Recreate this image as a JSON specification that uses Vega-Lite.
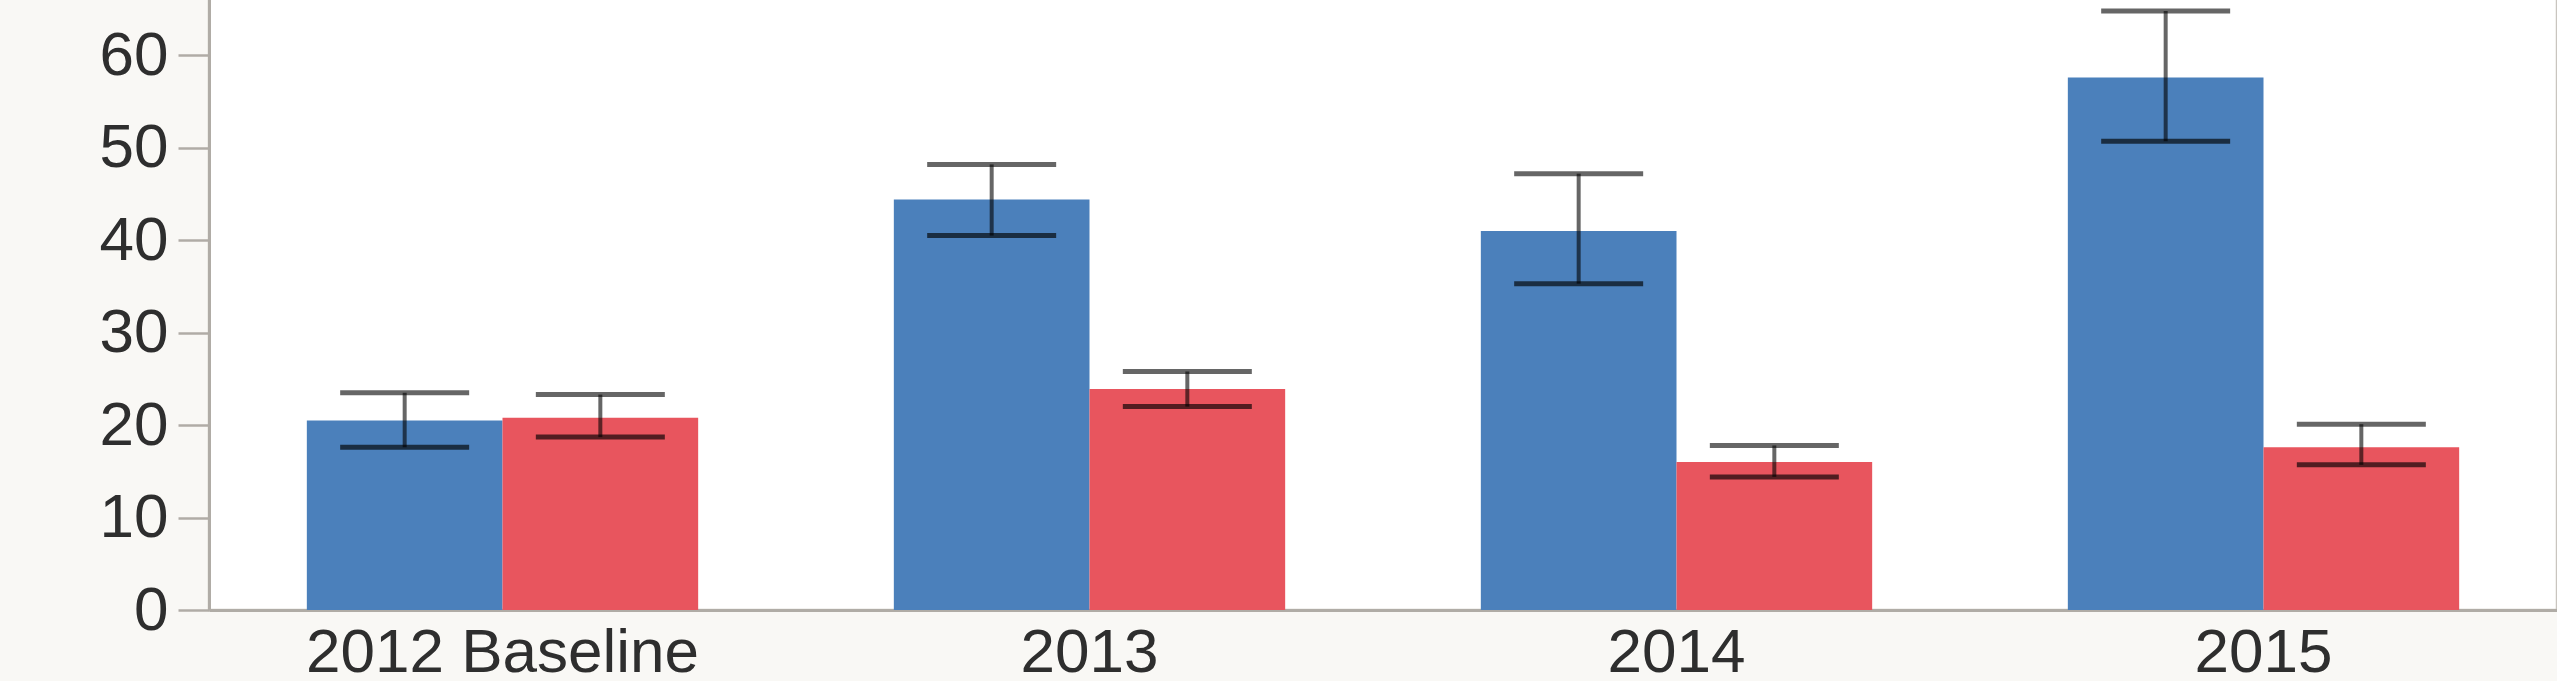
{
  "$schema": "https://vega.github.io/schema/vega-lite/v6.json",
  "width": 2348,
  "height": 612,
  "padding": {"left": 99, "top": -2, "right": 0, "bottom": 0},
  "background": "#f9f8f5",
  "config": {
    "view": {"fill": "#ffffff", "stroke": "#c9c5bf", "strokeWidth": 2.5},
    "font": "Liberation Sans"
  },
  "data": {
    "values": [
      {"year": "2012 Baseline", "group": "A", "value": 20.5, "lo": 17.6, "hi": 23.5},
      {"year": "2012 Baseline", "group": "B", "value": 20.8, "lo": 18.7, "hi": 23.3},
      {"year": "2013", "group": "A", "value": 44.4, "lo": 40.5, "hi": 48.2},
      {"year": "2013", "group": "B", "value": 23.9, "lo": 22.0, "hi": 25.8},
      {"year": "2014", "group": "A", "value": 41.0, "lo": 35.3, "hi": 47.2},
      {"year": "2014", "group": "B", "value": 16.0, "lo": 14.4, "hi": 17.8},
      {"year": "2015", "group": "A", "value": 57.6, "lo": 50.7, "hi": 64.8},
      {"year": "2015", "group": "B", "value": 17.6, "lo": 15.7, "hi": 20.1}
    ]
  },
  "encoding": {
    "x": {
      "field": "year", "type": "nominal", "sort": null,
      "scale": {"paddingInner": 0, "paddingOuter": 0},
      "axis": {
        "title": null, "labelAngle": 0, "ticks": false, "tickSize": 0,
        "labelPadding": 12, "labelFontSize": 62, "labelColor": "#2e2e2e",
        "labelLimit": 0,
        "domainColor": "#b0aca6", "domainWidth": 3, "labelFont": "Liberation Sans"
      }
    },
    "xOffset": {
      "field": "group", "type": "nominal",
      "scale": {"paddingInner": 0, "paddingOuter": 0.5}
    }
  },
  "layer": [
    {
      "mark": {"type": "bar"},
      "encoding": {
        "y": {
          "field": "value", "type": "quantitative",
          "title": null,
          "scale": {"domain": [0, 66.2], "nice": false, "zero": true},
          "axis": {
            "title": null, "grid": false, "values": [0, 10, 20, 30, 40, 50, 60],
            "tickSize": 31, "tickWidth": 2.5, "tickColor": "#b0aca6",
            "domainColor": "#b0aca6", "domainWidth": 3,
            "labelPadding": 10, "labelFontSize": 62, "labelColor": "#2e2e2e",
            "labelFont": "Liberation Sans", "labelOverlap": false
          }
        },
        "color": {
          "field": "group", "type": "nominal",
          "scale": {"domain": ["A", "B"], "range": ["#4b80bb", "#e8555e"]},
          "legend": null
        }
      }
    },
    {
      "mark": {"type": "rule", "color": "#000000", "opacity": 0.6, "strokeWidth": 4},
      "encoding": {
        "y": {"field": "lo", "type": "quantitative", "title": null},
        "y2": {"field": "hi"}
      }
    },
    {
      "mark": {"type": "tick", "color": "#000000", "opacity": 0.65, "thickness": 5, "size": 129},
      "encoding": {
        "y": {"field": "lo", "type": "quantitative", "title": null}
      }
    },
    {
      "mark": {"type": "tick", "color": "#000000", "opacity": 0.6, "thickness": 5, "size": 129},
      "encoding": {
        "y": {"field": "hi", "type": "quantitative", "title": null}
      }
    }
  ]
}
